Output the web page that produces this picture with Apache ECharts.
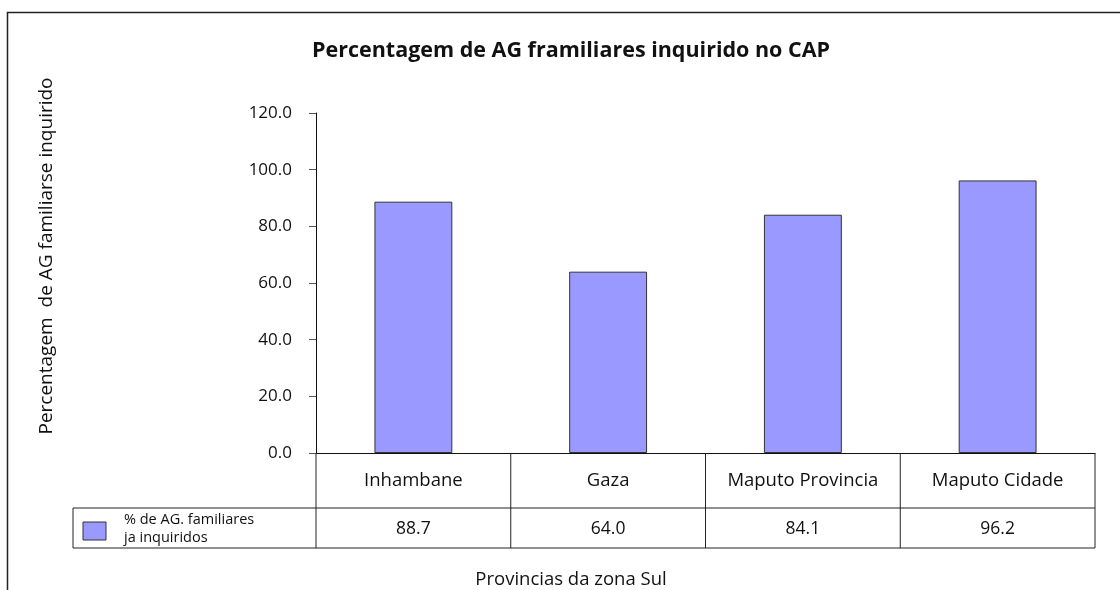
<!DOCTYPE html>
<html>
<head>
<meta charset="utf-8">
<script src="https://cdn.jsdelivr.net/npm/echarts@6/dist/echarts.min.js"></script>
<style>
  html, body { margin: 0; padding: 0; background: #fff; }
  #chart { width: 1120px; height: 590px; }
</style>
</head>
<body>
<div id="chart"></div>
<script>
// dados
const provincias = ['Inhambane', 'Gaza', 'Maputo Provincia', 'Maputo Cidade'];
const percentagem = [88.7, 64.0, 84.1, 96.2];
const serieNome = ['% de AG. familiares', 'ja inquiridos'];
const tituloTexto = 'Percentagem de AG framiliares inquirido no CAP';
const eixoYNome = 'Percentagem  de AG familiarse inquirido';
const eixoXNome = 'Provincias da zona Sul';

const FONT = '"Open Sans", "Noto Sans", sans-serif';
const BAR_COLOR = '#9999ff';

const chart = echarts.init(document.getElementById('chart'));

chart.setOption({
  animation: false,
  backgroundColor: '#fff',
  grid: { left: 316, right: 25, top: 113, bottom: 137, containLabel: false },
  xAxis: {
    type: 'category',
    data: provincias,
    axisLine: { lineStyle: { color: '#111', width: 1 } },
    axisTick: { show: false },
    axisLabel: { show: false },
    splitLine: { show: false }
  },
  yAxis: {
    type: 'value',
    min: 0,
    max: 120,
    interval: 20,
    axisLine: { show: true, lineStyle: { color: '#111', width: 1 } },
    axisTick: { show: true, length: 7, lineStyle: { color: '#555' } },
    axisLabel: {
      margin: 24,
      color: '#111',
      fontFamily: FONT,
      fontSize: 17,
      formatter: v => v.toFixed(1)
    },
    splitLine: { show: false }
  },
  series: [{
    type: 'bar',
    name: serieNome.join(' '),
    data: percentagem,
    barWidth: '40%',
    itemStyle: { color: BAR_COLOR, borderColor: '#333', borderWidth: 1 }
  }]
});

function drawExtras() {
  // posicoes a partir das escalas do eixo
  const c0 = chart.convertToPixel({ xAxisIndex: 0 }, provincias[0]);
  const c1 = chart.convertToPixel({ xAxisIndex: 0 }, provincias[1]);
  const band = c1 - c0;
  const yZero = chart.convertToPixel({ yAxisIndex: 0 }, 0);
  const left = c0 - band / 2;
  const right = left + band * provincias.length;
  const rowMid = yZero + 55;
  const rowBot = yZero + 95;
  const legendLeft = 73;

  const line = (x1, y1, x2, y2) => ({
    type: 'line',
    shape: { x1, y1, x2, y2 },
    style: { stroke: '#222', lineWidth: 1 },
    z: 10
  });
  const text = (t, x, y, size, extra) => ({
    type: 'text',
    x, y,
    style: Object.assign({
      text: t, fill: '#111', font: size + 'px ' + FONT,
      align: 'center', verticalAlign: 'middle'
    }, extra || {}),
    z: 10
  });

  const els = [];
  // moldura exterior
  els.push({
    type: 'rect',
    shape: { x: 7.5, y: 12.5, width: 1300, height: 700 },
    style: { fill: 'none', stroke: '#222', lineWidth: 1.5 }
  });
  // titulo
  els.push(text(tituloTexto, 571, 51, 21, { font: 'bold 21.5px ' + FONT }));
  // nome do eixo Y
  const yName = text(eixoYNome, 47, 256, 19);
  yName.rotation = Math.PI / 2;
  els.push(yName);
  // nome do eixo X
  els.push(text(eixoXNome, 571, 580, 18.5));

  // tabela de dados
  els.push(line(legendLeft, rowMid, right, rowMid));
  els.push(line(legendLeft, rowBot, right, rowBot));
  els.push(line(legendLeft, rowMid, legendLeft, rowBot));
  for (let i = 0; i <= provincias.length; i++) {
    const x = left + band * i;
    els.push(line(x, yZero, x, rowBot));
  }
  provincias.forEach((p, i) => {
    const cx = left + band * (i + 0.5);
    els.push(text(p, cx, (yZero + rowMid) / 2, 18.5));
    els.push(text(percentagem[i].toFixed(1), cx, (rowMid + rowBot) / 2 + 1, 17.5));
  });
  // legenda
  els.push({
    type: 'rect',
    shape: { x: 83, y: 522, width: 23, height: 18 },
    style: { fill: BAR_COLOR, stroke: '#333', lineWidth: 1 },
    z: 10
  });
  els.push(text(serieNome[0], 124, 520, 14.5, { align: 'left' }));
  els.push(text(serieNome[1], 124, 538, 14.5, { align: 'left' }));

  chart.setOption({ graphic: { elements: els } });
}

drawExtras();
</script>
</body>
</html>
